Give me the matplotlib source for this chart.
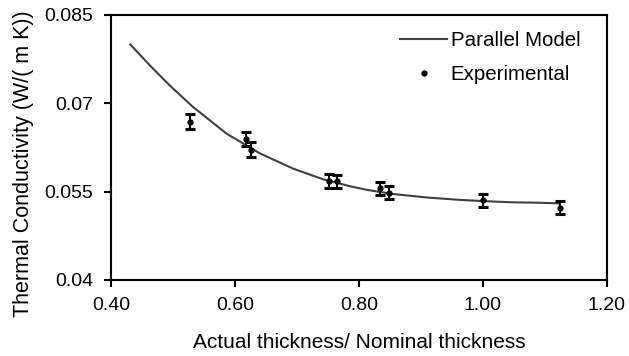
"""
Thermal conductivity vs. thickness ratio
"""
import matplotlib
matplotlib.use('Agg')
import matplotlib.pyplot as plt

# parallel model curve
model_x = [0.431, 0.463, 0.495, 0.532, 0.587, 0.640, 0.694, 0.742, 0.786,
           0.813, 0.855, 0.910, 0.963, 1.000, 1.044, 1.097, 1.124]
model_y = [0.0800, 0.0764, 0.0730, 0.0694, 0.0648, 0.0615, 0.0589, 0.0571,
           0.0559, 0.0553, 0.0546, 0.0540, 0.0536, 0.0534, 0.0532, 0.0531,
           0.0530]

# experimental points
exp_x = [0.527, 0.618, 0.625, 0.752, 0.765, 0.834, 0.849, 1.000, 1.125]
exp_y = [0.0669, 0.0639, 0.0621, 0.0568, 0.0568, 0.0556, 0.0548, 0.0535, 0.0523]
exp_err = [0.0013, 0.0012, 0.0013, 0.0012, 0.0011, 0.0011, 0.0011, 0.0011, 0.0011]

x_ticks = [0.40, 0.60, 0.80, 1.00, 1.20]
y_ticks = [0.04, 0.055, 0.07, 0.085]
y_tick_labels = ['0.04', '0.055', '0.07', '0.085']

plt.rcParams['font.family'] = ['Liberation Sans', 'DejaVu Sans']

fig = plt.figure(figsize=(6.29, 3.56), dpi=100)
ax = fig.add_axes([0.1765, 0.2135, 0.7885, 0.7445])

ax.plot(model_x, model_y, color='#404040', lw=1.5, label='Parallel Model')
ax.errorbar(exp_x, exp_y, yerr=exp_err, fmt='o', color='black', ms=3.5,
            elinewidth=1.5, capsize=3.6, capthick=2.2, label='Experimental')

ax.set_xlim(0.40, 1.20)
ax.set_ylim(0.04, 0.085)
ax.set_xticks(x_ticks)
ax.set_xticklabels([f'{v:.2f}' for v in x_ticks])
ax.set_yticks(y_ticks)
ax.set_yticklabels(y_tick_labels)

for s in ax.spines.values():
    s.set_linewidth(1.5)
ax.tick_params(direction='out', length=5, width=1.5, labelsize=14)
ax.tick_params(axis='y', pad=8)
ax.tick_params(axis='x', pad=7)

ax.set_xlabel('Actual thickness/ Nominal thickness', fontsize=15, labelpad=14)
ax.set_ylabel('Thermal Conductivity (W/( m K))', fontsize=15.5)
ax.yaxis.set_label_coords(-0.155, 0.44)

handles, labels = ax.get_legend_handles_labels()
leg = ax.legend([handles[0], handles[1][0]], labels, loc='upper left',
                bbox_to_anchor=(0.583, 0.94), frameon=False, fontsize=14.8,
                handlelength=2.3, handletextpad=0.15, borderpad=0,
                borderaxespad=0, labelspacing=0.75)

fig.savefig('out.png', dpi=100)
